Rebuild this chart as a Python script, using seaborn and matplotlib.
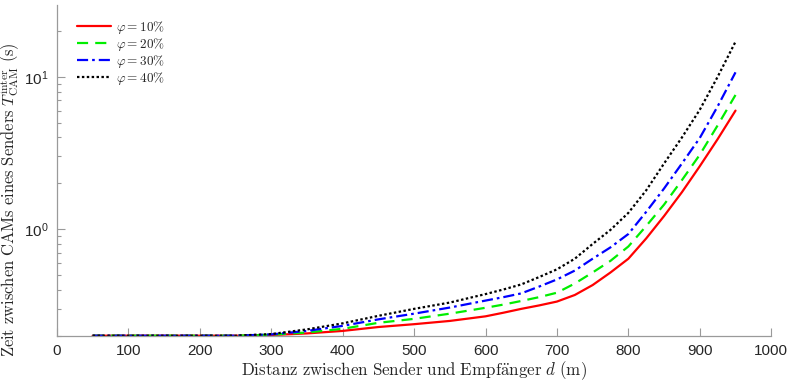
import matplotlib
matplotlib.use("Agg")
import matplotlib.pyplot as plt
import matplotlib.ticker as mticker
import numpy as np
import pandas as pd
import seaborn as sns

# ---- data ----
distance = [50, 100, 150, 200, 250, 300, 350, 400, 450, 500, 550, 600, 625, 650, 675,
            700, 725, 750, 775, 800, 825, 850, 875, 900, 925, 950]
phi_10 = [0.2, 0.2, 0.2, 0.2, 0.2, 0.202, 0.207, 0.215, 0.228, 0.238, 0.250, 0.268,
          0.283, 0.300, 0.316, 0.335, 0.37, 0.43, 0.52, 0.64, 0.87, 1.22, 1.75,
          2.59, 3.9, 6.0]
phi_20 = [0.2, 0.2, 0.2, 0.2, 0.2, 0.203, 0.210, 0.222, 0.243, 0.258, 0.279, 0.305,
          0.320, 0.338, 0.358, 0.383, 0.44, 0.52, 0.62, 0.77, 1.05, 1.45, 2.1,
          3.08, 4.8, 7.6]
phi_30 = [0.2, 0.2, 0.2, 0.2, 0.2, 0.204, 0.215, 0.232, 0.256, 0.279, 0.306, 0.340,
          0.358, 0.379, 0.42, 0.468, 0.535, 0.64, 0.76, 0.93, 1.3, 1.85, 2.7,
          3.97, 6.4, 10.7]
phi_40 = [0.2, 0.2, 0.2, 0.2, 0.2, 0.205, 0.220, 0.241, 0.270, 0.300, 0.330, 0.375,
          0.402, 0.434, 0.485, 0.545, 0.64, 0.80, 0.99, 1.28, 1.8, 2.7, 4.0,
          6.08, 10.0, 17.0]
series_labels = [r"$\varphi{=}10\%$", r"$\varphi{=}20\%$",
                 r"$\varphi{=}30\%$", r"$\varphi{=}40\%$"]
x_ticks = [0, 100, 200, 300, 400, 500, 600, 700, 800, 900, 1000]

sns.set_theme(style="white")
plt.rcParams["font.family"] = ["Liberation Sans", "DejaVu Sans"]
plt.rcParams["mathtext.fontset"] = "cm"

fig = plt.figure(figsize=(7.91, 3.83), dpi=100)
ax = fig.add_axes([0.072, 0.1235, 0.903, 0.8635])

styles = [
    dict(color="#ff0000", linestyle="-"),
    dict(color="#00ee00", linestyle=(0, (5, 3.2))),
    dict(color="#0000ff", linestyle=(0, (5, 1.8, 1.2, 1.8))),
    dict(color="#000000", linestyle=(0, (1.1, 1.1))),
]
for vals, lab, st in zip([phi_10, phi_20, phi_30, phi_40], series_labels, styles):
    df = pd.DataFrame({"d": distance, "t": vals})
    sns.lineplot(data=df, x="d", y="t", ax=ax, label=lab, linewidth=1.6,
                 clip_on=False, **st)

ax.set_yscale("log")
ax.set_xlim(0, 1000)
ax.set_ylim(0.2, 29.6)
ax.set_xticks(x_ticks)
ax.xaxis.set_major_formatter(mticker.FuncFormatter(lambda v, p: f"{int(v)}"))
ax.yaxis.set_major_locator(mticker.LogLocator(base=10, numticks=10))
ax.yaxis.set_minor_locator(mticker.LogLocator(base=10, subs=np.arange(2, 10), numticks=20))
ax.yaxis.set_minor_formatter(mticker.NullFormatter())

for s in ["top", "right"]:
    ax.spines[s].set_visible(False)
for s in ["left", "bottom"]:
    ax.spines[s].set_color("#9a9a9a")
    ax.spines[s].set_linewidth(0.9)

ax.tick_params(axis="both", which="major", direction="in", length=5.5, width=0.8,
               color="#9a9a9a", labelsize=11, labelcolor="#262626", pad=6,
               left=True, bottom=True)
ax.tick_params(axis="y", which="minor", direction="in", length=3, width=0.8,
               color="#9a9a9a", left=True)
ax.tick_params(axis="x", which="minor", bottom=False)

ax.set_xlabel(r"$\mathrm{Distanz\ zwischen\ Sender\ und\ Empf\ddot{a}nger}\ d\ \mathrm{(m)}$",
              fontsize=12.2, color="#262626", labelpad=1)
ax.set_ylabel(r"$\mathrm{Zeit\ zwischen\ CAMs\ eines\ Senders}\ T^{\mathrm{inter}}_{\mathrm{CAM}}\ \mathrm{(s)}$",
              fontsize=11.9, color="#262626")
ax.yaxis.set_label_coords(-0.049, 0.41)

leg = ax.legend(loc="upper left", frameon=False, fontsize=9.5, handlelength=2.6,
                handletextpad=0.35, labelspacing=0.0, borderaxespad=0.0,
                borderpad=0.0, bbox_to_anchor=(0.028, 0.958))
for t in leg.get_texts():
    t.set_color("#262626")

fig.savefig("out.png", dpi=100)
